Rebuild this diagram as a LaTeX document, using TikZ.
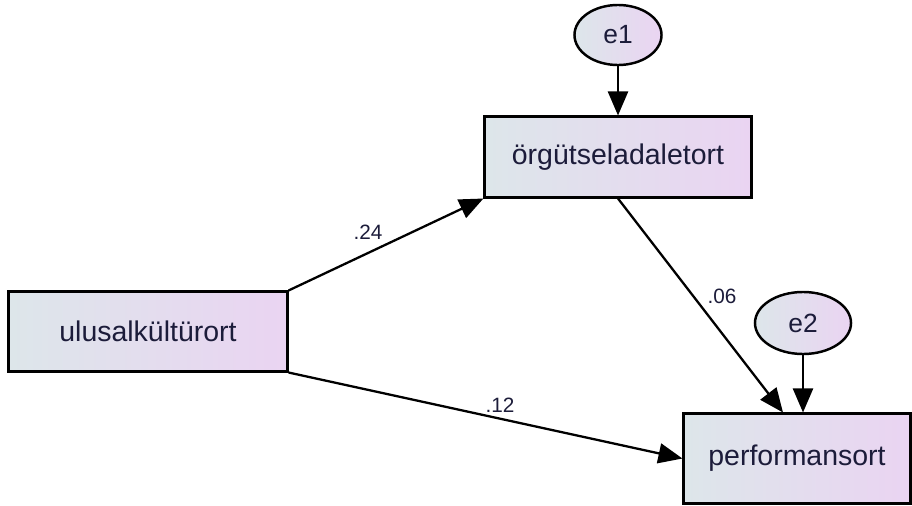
\documentclass[tikz,border=0pt]{standalone}
\usepackage{fontspec}
\setmainfont{Liberation Sans}
\usetikzlibrary{arrows.meta,shapes.geometric}
\definecolor{gauche}{HTML}{DDE6EA}
\definecolor{droite}{HTML}{EAD4F2}
\definecolor{encre}{HTML}{1C1C3A}

\begin{document}
\begin{tikzpicture}[x=0.01cm,y=-0.01cm,
  var/.style={draw=black,line width=0.85pt,left color=gauche,right color=droite,
    font=\fontsize{8.1}{9}\selectfont,text=encre},
  err/.style={ellipse,draw=black,line width=0.7pt,left color=gauche,right color=droite,
    font=\fontsize{7.5}{9}\selectfont,text=encre},
  fleche/.style={-{Triangle[length=2.4mm,width=2.0mm]},line width=0.65pt},
  coef/.style={font=\fontsize{5.9}{7}\selectfont,text=encre}]
  \useasboundingbox (0,0) rectangle (912,506);
  % variables
  \node[var,minimum width=2.78cm,minimum height=0.79cm] (ulusal) at (148,331.5) {ulusalkültürort};
  \node[var,minimum width=2.66cm,minimum height=0.80cm] (orgut) at (618,157) {örgütseladaletort};
  \node[var,minimum width=2.26cm,minimum height=0.89cm] (perf) at (797,458.5) {performansort};
  % hatalar
  \node[err,minimum width=0.87cm,minimum height=0.60cm] (e1) at (618,35) {e1};
  \node[err,minimum width=0.96cm,minimum height=0.62cm] (e2) at (803,323) {e2};
  % yollar
  \draw[fleche] (e1) -- (orgut);
  \draw[fleche] (e2) -- (e2 |- perf.north);
  \draw[fleche] (ulusal.north east) -- (orgut.south west);
  \draw[fleche] (ulusal.south east) -- (perf.west);
  \draw[fleche] (orgut.south) -- ([xshift=-0.14cm]perf.north);
  % katsayilar
  \node[coef] (k24) at (368,232) {.24};
  \node[coef] (k12) at (500,405) {.12};
  \node[coef] (k06) at (722,296) {.06};
\end{tikzpicture}
\end{document}
